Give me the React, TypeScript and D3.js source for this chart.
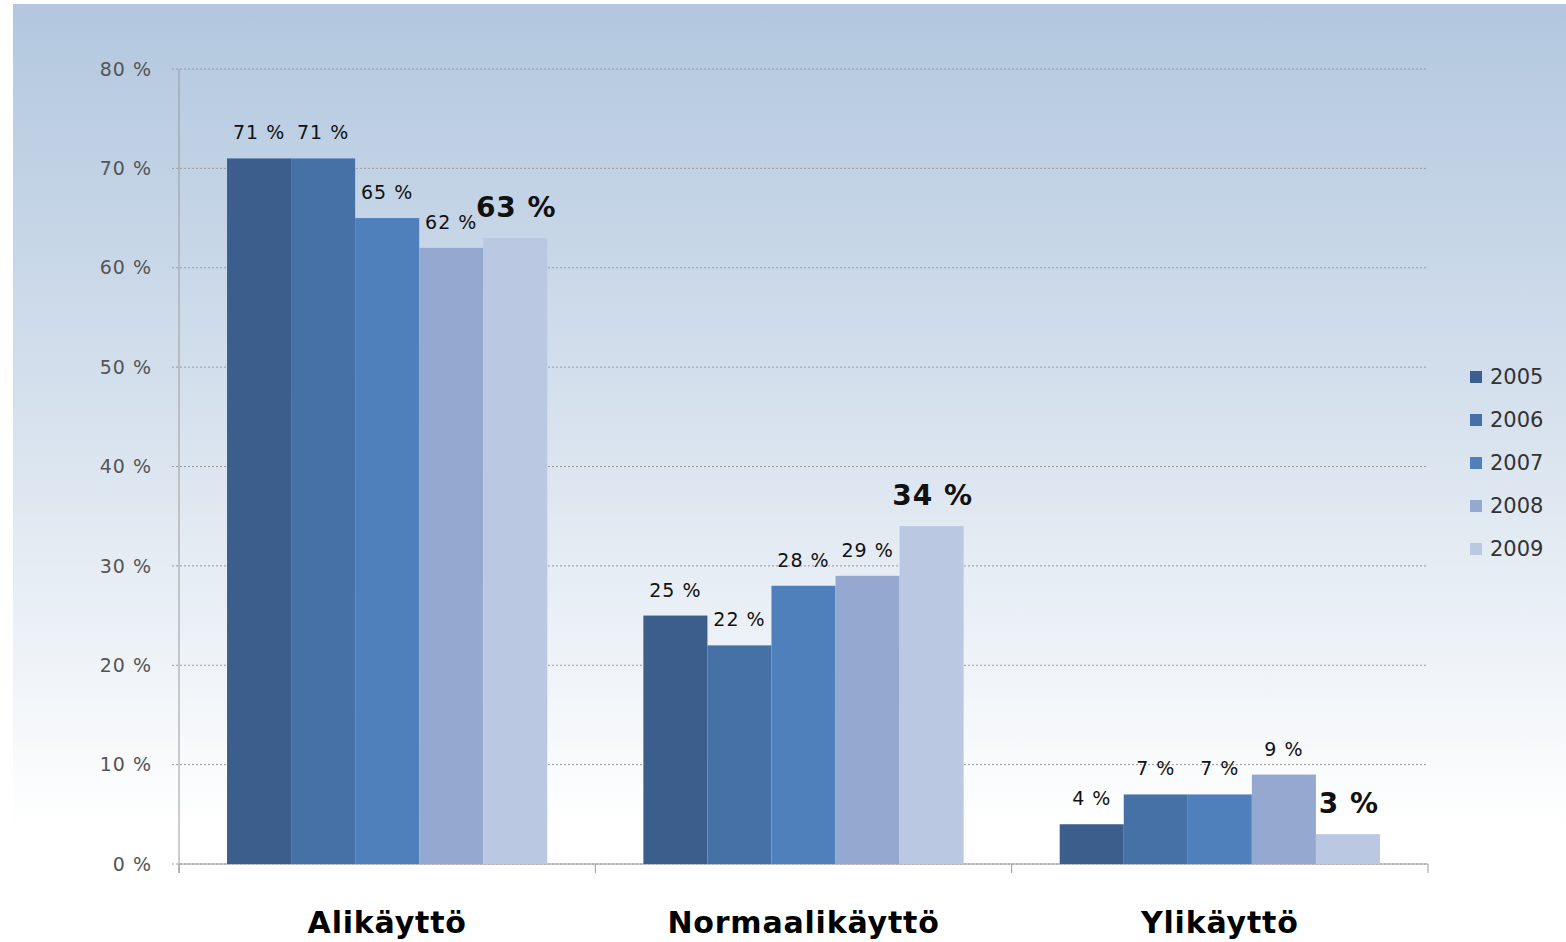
import React from "react";
import * as d3 from "d3";

const categories = ["Alikäyttö", "Normaalikäyttö", "Ylikäyttö"];
const years = ["2005", "2006", "2007", "2008", "2009"];
const v2005 = [71, 25, 4];
const v2006 = [71, 22, 7];
const v2007 = [65, 28, 7];
const v2008 = [62, 29, 9];
const v2009 = [63, 34, 3];
const seriesValues = [v2005, v2006, v2007, v2008, v2009];
const colors = ["#3b5e8c", "#4571a6", "#4f80bc", "#94a8d0", "#bac8e2"];
const yTicks = [0, 10, 20, 30, 40, 50, 60, 70, 80];

const W = 1566;
const H = 942;
const M = { left: 179, right: 1428, top: 69, bottom: 864 };

export default function App() {
  const x0 = d3.scaleBand<string>().domain(categories).range([M.left, M.right]).padding(0);
  const x1 = d3
    .scaleBand<string>()
    .domain(years)
    .range([0, x0.bandwidth()])
    .paddingInner(0)
    .paddingOuter(0.75);
  const y = d3.scaleLinear().domain([0, 80]).range([M.bottom, M.top]);
  const boundaries = [...categories.map((c) => x0(c) as number), M.right];

  return (
    <svg
      width={W}
      height={H}
      style={{ position: "absolute", left: 0, top: 0, display: "block" }}
    >
      <defs>
        <linearGradient id="bg" x1="0" y1="0" x2="0" y2="1">
          <stop offset="0" stopColor="#b2c7df" />
          <stop offset="0.4" stopColor="#d3dfec" />
          <stop offset="0.88" stopColor="#ffffff" />
          <stop offset="1" stopColor="#ffffff" />
        </linearGradient>
      </defs>
      <rect x={0} y={0} width={W} height={H} fill="#fff" />
      <rect x={13} y={4} width={W - 13} height={H - 4} fill="url(#bg)" />

      {yTicks.map((t) => (
        <g key={t}>
          <line
            x1={M.left - 7}
            x2={M.right}
            y1={y(t)}
            y2={y(t)}
            stroke="#9a9a9a"
            strokeWidth={1}
            strokeDasharray="2,2"
          />
          <text
            x={152}
            y={y(t)}
            dy="0.35em"
            textAnchor="end"
            fontFamily="DejaVu Sans"
            fontSize={19}
            fill="#555"
            letterSpacing={1}
          >
            {t} %
          </text>
        </g>
      ))}
      <line x1={M.left} x2={M.left} y1={M.top} y2={M.bottom + 9} stroke="#9a9a9a" />
      <line x1={M.left} x2={M.right} y1={M.bottom} y2={M.bottom} stroke="#9a9a9a" />
      {boundaries.map((b, i) => (
        <line key={i} x1={b} x2={b} y1={M.bottom} y2={M.bottom + 9} stroke="#9a9a9a" />
      ))}

      {categories.map((c, ci) => (
        <g key={c}>
          {years.map((yr, si) => {
            const v = seriesValues[si][ci];
            const bx = (x0(c) as number) + (x1(yr) as number);
            const bw = x1.bandwidth();
            const isLast = si === years.length - 1;
            return (
              <g key={yr}>
                <rect x={bx} y={y(v)} width={bw} height={y(0) - y(v)} fill={colors[si]} />
                <text
                  x={bx + bw / 2 + (isLast ? 1 : 0)}
                  y={y(v) - (isLast ? 21 : 19)}
                  textAnchor="middle"
                  fontFamily="DejaVu Sans"
                  fontSize={isLast ? 28 : 19}
                  fontWeight={isLast ? "bold" : "normal"}
                  fill="#111"
                  letterSpacing={1}
                >
                  {v} %
                </text>
              </g>
            );
          })}
          <text
            x={(x0(c) as number) + x0.bandwidth() / 2}
            y={933}
            textAnchor="middle"
            fontFamily="DejaVu Sans"
            fontWeight="bold"
            fontSize={30}
            fill="#000"
            letterSpacing={0.8}
          >
            {c}
          </text>
        </g>
      ))}

      {years.map((yr, i) => (
        <g key={yr} transform={`translate(1470, ${377 + i * 43})`}>
          <rect x={0} y={-6} width={12} height={12} fill={colors[i]} />
          <text x={20} y={0} dy="0.35em" fontFamily="DejaVu Sans" fontSize={21} fill="#333">
            {yr}
          </text>
        </g>
      ))}
    </svg>
  );
}
